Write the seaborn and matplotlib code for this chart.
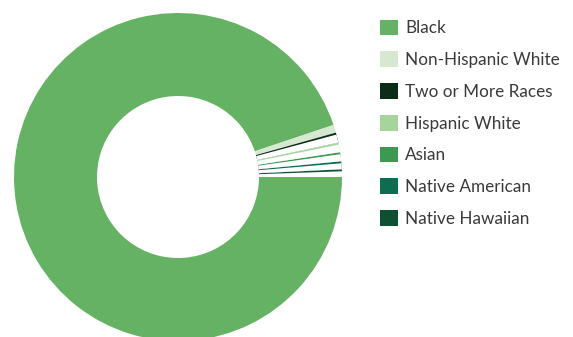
import matplotlib
matplotlib.use("Agg")
import matplotlib.pyplot as plt
from matplotlib.patches import Wedge
import seaborn as sns

categories = ["Black", "Non-Hispanic White", "Two or More Races", "Hispanic White",
              "Asian", "Native American", "Native Hawaiian"]
shares = [94.86, 0.78, 1.00, 0.94, 0.89, 0.78, 0.75]
colors = ["#66b264", "#d6e9d0", "#0c2c18", "#a6d59c", "#3c9a50", "#0b6f4f", "#0d5032"]

sns.set_theme(style="white")
plt.rcParams["font.family"] = ["Lato", "DejaVu Sans"]

W, H, DPI = 573, 337, 100
fig = plt.figure(figsize=(W / DPI, H / DPI), dpi=DPI)
ax = fig.add_axes([0, 0, 1, 1])

# ring geometry in pixels
cx, cy, r_out, r_in = 178, 177, 164, 81
ring = (r_out - r_in) / r_out

wedges, _ = ax.pie(shares, colors=colors, startangle=0, counterclock=False,
                   radius=1.0, wedgeprops=dict(width=ring, linewidth=0))

# thin slices show only a narrow stripe at their leading edge
sliver = 0.7
for w in wedges[2:]:
    ax.add_patch(Wedge(w.center, w.r, w.theta1, w.theta2 - sliver, width=ring,
                       facecolor="white", edgecolor="none", zorder=w.get_zorder() + 0.5))

ax.set_xlim(-cx / r_out, (W - cx) / r_out)
ax.set_ylim(-(H - cy) / r_out, cy / r_out)
ax.set_aspect("auto")
ax.axis("off")

fs = 12.3
px = fs * DPI / 72
ax.legend(wedges, categories, loc="upper left", bbox_to_anchor=(380 / W, 1 - 19.5 / H),
          bbox_transform=fig.transFigure, frameon=False, borderaxespad=0, borderpad=0,
          fontsize=fs, handlelength=18 / px, handleheight=18 / px,
          handletextpad=7 / px, labelspacing=15.0 / px, labelcolor="#3a3a3a")

fig.savefig("out.png", dpi=DPI)
